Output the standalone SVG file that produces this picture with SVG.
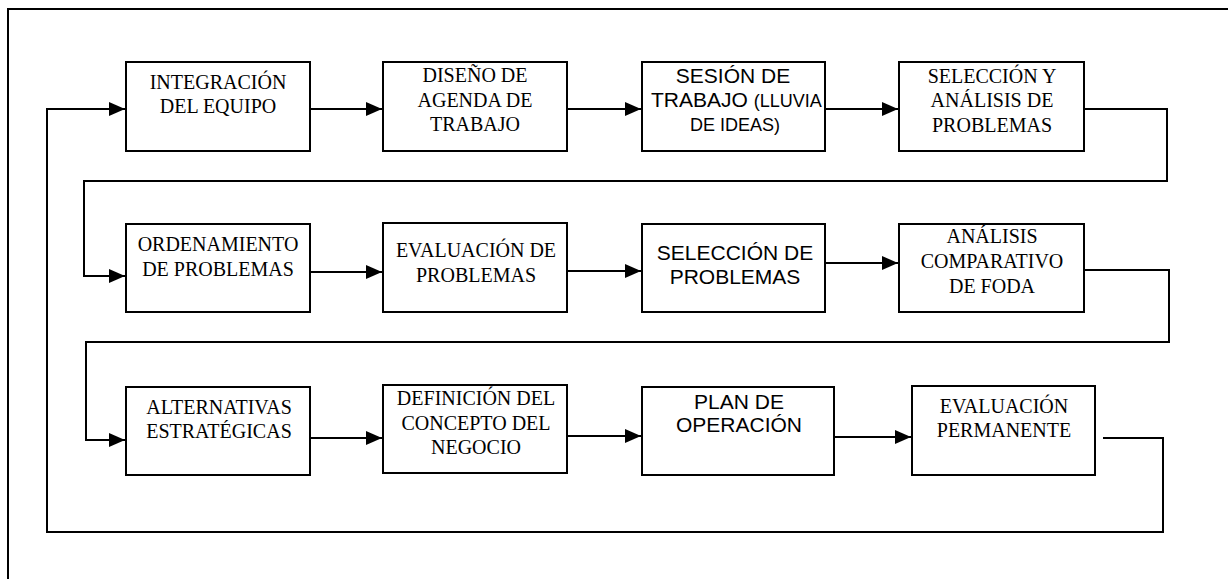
<svg xmlns="http://www.w3.org/2000/svg" width="1228" height="579" viewBox="0 0 1228 579">
<style>
.bg{fill:#fff}
.box{fill:#fff;stroke:#000;stroke-width:2}
.frame{fill:none;stroke:#000;stroke-width:2}
.con{fill:none;stroke:#000;stroke-width:2}
.t{font-family:"Liberation Serif","Times New Roman",serif;font-size:20px;fill:#000;text-anchor:middle}
.a{font-family:"Liberation Sans",Arial,sans-serif;font-size:21px;fill:#000;text-anchor:middle}
</style>
<defs>
<marker id="ah" markerWidth="16" markerHeight="14" refX="16" refY="7" orient="auto" markerUnits="userSpaceOnUse">
<path d="M0,0 L16,7 L0,14 Z" fill="#000"/>
</marker>
</defs>
<rect class="bg" x="0" y="0" width="1228" height="579"/>
<path class="frame" d="M8,579 L8,9 L1228,9"/>

<g id="connectors">
<path class="con" d="M1103,438 L1163,438 L1163,532 L47,532 L47,109 L125,109" marker-end="url(#ah)"/>
<path class="con" d="M309,109 L382,109" marker-end="url(#ah)"/>
<path class="con" d="M567,109 L641,109" marker-end="url(#ah)"/>
<path class="con" d="M825,109 L898,109" marker-end="url(#ah)"/>
<path class="con" d="M1084,109 L1167,109 L1167,181 L84,181 L84,276 L125,276" marker-end="url(#ah)"/>
<path class="con" d="M310,272 L382,272" marker-end="url(#ah)"/>
<path class="con" d="M567,271 L641,271" marker-end="url(#ah)"/>
<path class="con" d="M825,263 L898,263" marker-end="url(#ah)"/>
<path class="con" d="M1084,270 L1169,270 L1169,342 L86,342 L86,440 L125,440" marker-end="url(#ah)"/>
<path class="con" d="M310,438 L382,438" marker-end="url(#ah)"/>
<path class="con" d="M567,436 L641,436" marker-end="url(#ah)"/>
<path class="con" d="M834,437 L911,437" marker-end="url(#ah)"/>
</g>

<g id="n1"><rect class="box" x="126" y="62" width="184" height="89"/>
<text class="t" x="218" y="89">INTEGRACIÓN</text><text class="t" x="218" y="113">DEL EQUIPO</text></g>
<g id="n2"><rect class="box" x="383" y="62" width="184" height="89"/>
<text class="t" x="475" y="82">DISEÑO DE</text><text class="t" x="475" y="107">AGENDA DE</text><text class="t" x="475" y="131">TRABAJO</text></g>
<g id="n3"><rect class="box" x="642" y="62" width="183" height="89"/>
<text class="a" x="733" y="83">SESIÓN DE</text>
<text class="a" x="651" y="107" style="text-anchor:start">TRABAJO <tspan style="font-size:18px">(LLUVIA</tspan></text>
<text class="a" x="735" y="131" style="font-size:18px">DE IDEAS)</text></g>
<g id="n4"><rect class="box" x="899" y="62" width="185" height="89"/>
<text class="t" x="992" y="83">SELECCIÓN Y</text><text class="t" x="992" y="107">ANÁLISIS DE</text><text class="t" x="992" y="132">PROBLEMAS</text></g>

<g id="n5"><rect class="box" x="126" y="224" width="184" height="88"/>
<text class="t" x="218" y="251">ORDENAMIENTO</text><text class="t" x="218" y="276">DE PROBLEMAS</text></g>
<g id="n6"><rect class="box" x="383" y="223" width="184" height="89"/>
<text class="t" x="476" y="257">EVALUACIÓN DE</text><text class="t" x="476" y="282">PROBLEMAS</text></g>
<g id="n7"><rect class="box" x="642" y="224" width="183" height="88"/>
<text class="a" x="735" y="260">SELECCIÓN DE</text><text class="a" x="735" y="284">PROBLEMAS</text></g>
<g id="n8"><rect class="box" x="899" y="224" width="185" height="88"/>
<text class="t" x="992" y="243">ANÁLISIS</text><text class="t" x="992" y="268">COMPARATIVO</text><text class="t" x="992" y="293">DE FODA</text></g>

<g id="n9"><rect class="box" x="126" y="387" width="184" height="88"/>
<text class="t" x="219" y="414">ALTERNATIVAS</text><text class="t" x="219" y="438">ESTRATÉGICAS</text></g>
<g id="n10"><rect class="box" x="383" y="385" width="184" height="88"/>
<text class="t" x="476" y="405">DEFINICIÓN DEL</text><text class="t" x="476" y="430">CONCEPTO DEL</text><text class="t" x="476" y="454">NEGOCIO</text></g>
<g id="n11"><rect class="box" x="642" y="387" width="192" height="88"/>
<text class="a" x="739" y="409">PLAN DE</text><text class="a" x="739" y="432">OPERACIÓN</text></g>
<g id="n12"><rect class="box" x="912" y="386" width="183" height="89"/>
<text class="t" x="1004" y="413">EVALUACIÓN</text><text class="t" x="1004" y="437">PERMANENTE</text></g>
</svg>
